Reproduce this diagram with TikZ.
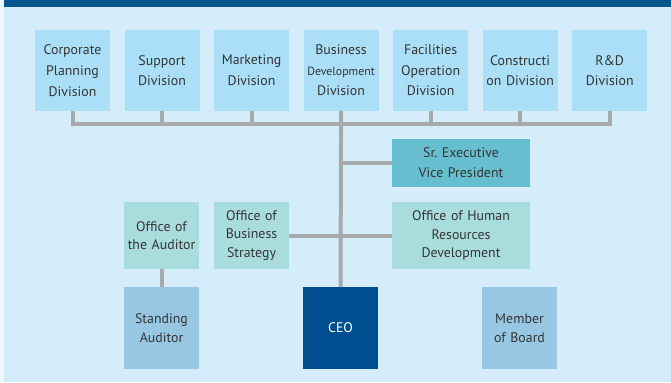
\documentclass[tikz,border=0pt]{standalone}
\usepackage{fontspec}
\setmainfont{PT Sans}
\usepackage{tikz}
\usetikzlibrary{positioning}
\definecolor{barBlue}{HTML}{00578E}
\definecolor{paneBlue}{HTML}{D5ECFA}
\definecolor{edgeBlue}{HTML}{EEF7FD}
\definecolor{divBlue}{HTML}{AADFF7}
\definecolor{execTeal}{HTML}{66BECE}
\definecolor{officeTeal}{HTML}{A9DCDC}
\definecolor{boardBlue}{HTML}{97C7E3}
\definecolor{ceoBlue}{HTML}{004E8F}
\definecolor{linkGray}{HTML}{A8A9AB}
\definecolor{textGray}{HTML}{353535}
\frenchspacing

\begin{document}
\begin{tikzpicture}[
        x=0.75pt, y=-0.75pt,
        every node/.style={inner sep=0pt, outer sep=0pt, align=center, text=textGray, font=\fontsize{10.4}{15.5}\selectfont},
        unit/.style={minimum width=56.25pt, text width=56.25pt},
        division/.style={unit, fill=divBlue, minimum height=60.75pt},
        office/.style={unit, fill=officeTeal, minimum height=50.25pt, font=\fontsize{10.4}{14}\selectfont},
        board/.style={unit, fill=boardBlue, minimum height=61.5pt, font=\fontsize{10.4}{14}\selectfont},
        link/.style={draw=linkGray, line width=3pt}
      ]
        % backdrop
        \fill[edgeBlue] (0,0) rectangle (671,382);
        \fill[paneBlue] (4,7) rectangle (671,382);
        \fill[barBlue] (4,0) rectangle (671,7);
        \useasboundingbox (0,0) rectangle (671,382);

        % divisions
        \node[division] (corp) at (72.5,70.5) {Corporate\\Planning\\Division};
        \node[division, right=10.9pt of corp] (support) {Support\\Division};
        \node[division, right=10.9pt of support] (mkt) {Marketing\\Division};
        \node[division, right=10.9pt of mkt] (bizdev) {Business\\{\fontsize{8.9}{15.5}\selectfont Development}\\Division};
        \node[division, right=10.9pt of bizdev] (facil) {Facilities\\Operation\\Division};
        \node[division, right=10.9pt of facil] (constr) {Constructi\\on Division};
        \node[division, right=10.9pt of constr] (rnd) {R\&D\\Division};

        % executives and offices
        \node[fill=execTeal, minimum width=103.5pt, text width=103.5pt, minimum height=36pt, font=\fontsize{10.4}{15}\selectfont] (sevp) at (461,163) {Sr. Executive\\Vice President};
        \node[office] (audit) at (161.5,235.5) {Office of\\the Auditor};
        \node[office] (strat) at (251.5,235.5) {Office of\\Business\\Strategy};
        \node[office, minimum width=103.5pt, text width=103.5pt] (hrd) at (461,235.5) {Office of Human\\Resources\\Development};

        \node[board] (standing) at (161.5,328) {Standing\\Auditor};
        \node[board, fill=ceoBlue, text=white] (ceo) at (340.5,328) {CEO};
        \node[board] (member) at (519.5,328) {Member\\of Board};

        % connectors
        \coordinate (bus) at (340.5,124);
        \draw[link] (corp.south) -- (corp.south |- bus) -- (rnd.south |- bus) -- (rnd.south);
        \foreach \d in {support, mkt, facil, constr}
          \draw[link] (\d.south) -- (\d.south |- bus);
        \draw[link] (bizdev.south) -- (ceo.north);
        \draw[link] (sevp.west) -- (sevp.west -| ceo.north);
        \draw[link] (strat.east) -- (hrd.west);
        \draw[link] (audit.south) -- (standing.north);
      \end{tikzpicture}
\end{document}
